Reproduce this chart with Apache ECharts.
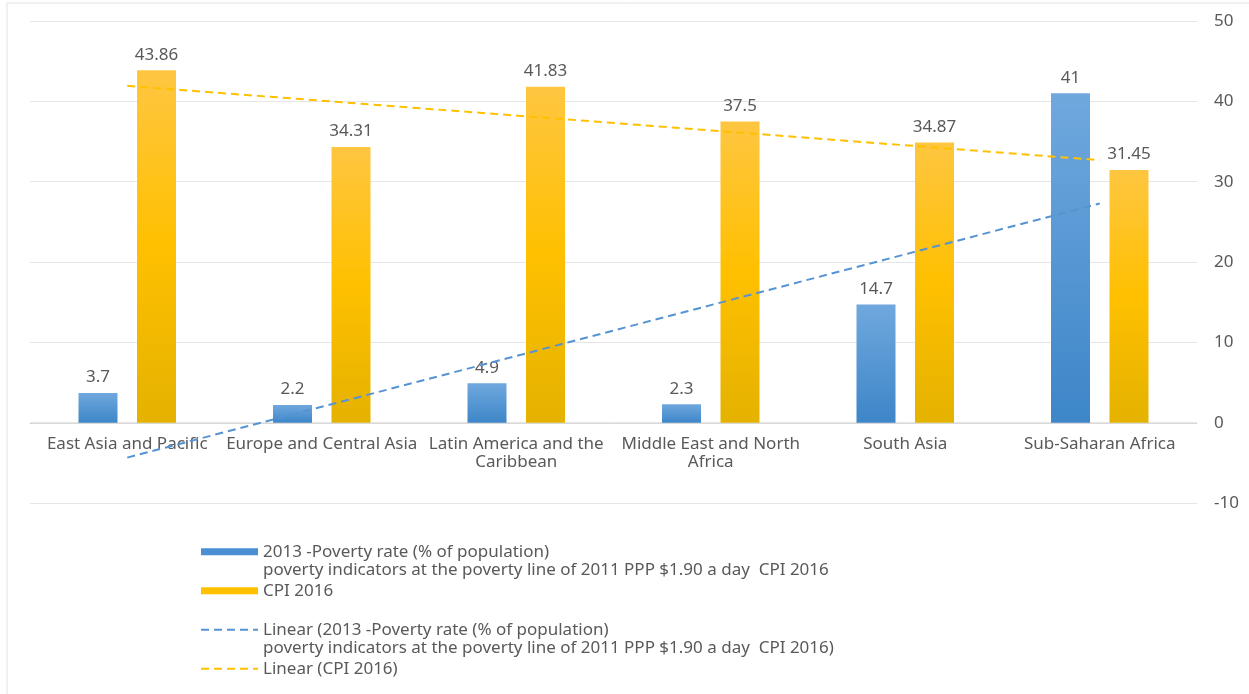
<!DOCTYPE html>
<html lang="en">
<head>
    <meta charset="UTF-8">
    <title>Poverty rate and CPI 2016</title>
    <script src="https://cdn.jsdelivr.net/npm/echarts@6/dist/echarts.min.js"></script>
    <style>
        html, body { margin: 0; padding: 0; background: #fff; }
    </style>
</head>
<body>
    <div id="main" style="width: 1249px; height: 694px;"></div>
    <script>
        // regions (line breaks as shown under the axis)
        const regions = [
            'East Asia and Pacific',
            'Europe and Central Asia',
            'Latin America and the\nCaribbean',
            'Middle East and North\nAfrica',
            'South Asia',
            'Sub-Saharan Africa'
        ];
        // 2013 poverty rate (% of population) at $1.90 a day
        const povertyRate = [3.7, 2.2, 4.9, 2.3, 14.7, 41];
        // CPI 2016
        const cpi2016 = [43.86, 34.31, 41.83, 37.5, 34.87, 31.45];

        // leading blank line keeps the icon level with the first text line
        const legendText = {
            poverty: '\n2013 -Poverty rate (% of population)\npoverty indicators at the poverty line of 2011 PPP $1.90 a day  CPI 2016',
            cpi: 'CPI 2016',
            povertyTrend: '\nLinear (2013 -Poverty rate (% of population)\npoverty indicators at the poverty line of 2011 PPP $1.90 a day  CPI 2016)',
            cpiTrend: 'Linear (CPI 2016)'
        };

        // least squares trend over category positions 1..n (like Excel's linear trendline)
        function linearTrend(ys) {
            const n = ys.length;
            let sx = 0, sy = 0, sxy = 0, sxx = 0;
            ys.forEach((y, i) => {
                const x = i + 1;
                sx += x; sy += y; sxy += x * y; sxx += x * x;
            });
            const slope = (n * sxy - sx * sy) / (n * sxx - sx * sx);
            const icpt = (sy - slope * sx) / n;
            return ys.map((y, i) => +(icpt + slope * (i + 1)).toFixed(3));
        }

        const textColor = '#595959';
        const font = 'Noto Sans';
        const fs = 17;

        var myChart = echarts.init(document.getElementById('main'));

        let option = {
            animation: false,
            backgroundColor: '#fff',
            textStyle: { fontFamily: font },
            graphic: [{
                type: 'rect',
                shape: { x: 7, y: 3, width: 1262, height: 710 },
                style: { fill: 'none', stroke: '#e2e2e2', lineWidth: 1 },
                silent: true
            }],
            grid: { left: 30, right: 52, top: 21, bottom: 191 },
            legend: {
                orient: 'vertical',
                left: 200,
                top: 524,
                padding: 0,
                itemWidth: 57,
                itemHeight: 7,
                itemGap: 2,
                selectedMode: false,
                textStyle: { color: textColor, fontSize: fs, lineHeight: 18.5, fontFamily: font },
                formatter: name => legendText[name],
                data: [
                    { name: 'poverty', icon: 'rect', itemStyle: { color: '#4a8fd3' } },
                    { name: 'cpi', icon: 'rect', itemStyle: { color: '#ffc000' } },
                    { name: 'povertyTrend', itemStyle: { color: 'rgba(0,0,0,0)', opacity: 0, borderWidth: 0 } },
                    { name: 'cpiTrend', itemStyle: { color: 'rgba(0,0,0,0)', opacity: 0, borderWidth: 0 } }
                ]
            },
            xAxis: {
                type: 'category',
                data: regions,
                // axis sits on the zero line, labels just under it
                offset: -80,
                axisLine: { onZero: false, lineStyle: { color: '#d9d9d9' } },
                axisTick: { show: false },
                axisLabel: {
                    interval: 0,
                    color: textColor,
                    fontSize: fs,
                    lineHeight: 18,
                    margin: 12
                }
            },
            yAxis: {
                type: 'value',
                position: 'right',
                min: -10,
                max: 50,
                interval: 10,
                axisLine: { show: false },
                axisTick: { show: false },
                splitLine: { lineStyle: { color: '#e6e6e6' } },
                axisLabel: { color: textColor, fontSize: fs, margin: 17 }
            },
            series: [
                {
                    name: 'poverty',
                    type: 'bar',
                    data: povertyRate,
                    barWidth: 39,
                    barGap: '50%',
                    itemStyle: {
                        color: new echarts.graphic.LinearGradient(0, 0, 0, 1, [
                            { offset: 0, color: '#70a8de' },
                            { offset: 1, color: '#3d86c8' }
                        ])
                    },
                    label: { show: true, position: 'top', distance: 7, color: textColor, fontSize: fs }
                },
                {
                    name: 'cpi',
                    type: 'bar',
                    data: cpi2016,
                    barWidth: 39,
                    itemStyle: {
                        color: new echarts.graphic.LinearGradient(0, 0, 0, 1, [
                            { offset: 0, color: '#fec641' },
                            { offset: 0.5, color: '#ffc000' },
                            { offset: 1, color: '#e4b200' }
                        ])
                    },
                    label: { show: true, position: 'top', distance: 7, color: textColor, fontSize: fs }
                },
                {
                    name: 'povertyTrend',
                    type: 'line',
                    data: linearTrend(povertyRate),
                    symbol: 'none',
                    color: '#5593d3',
                    lineStyle: { color: '#5593d3', width: 2, type: [8, 5] },
                    z: 3
                },
                {
                    name: 'cpiTrend',
                    type: 'line',
                    data: linearTrend(cpi2016),
                    symbol: 'none',
                    color: '#ffc000',
                    lineStyle: { color: '#ffc000', width: 2, type: [8, 5] },
                    z: 3
                }
            ]
        };

        myChart.setOption(option);
    </script>
</body>
</html>
